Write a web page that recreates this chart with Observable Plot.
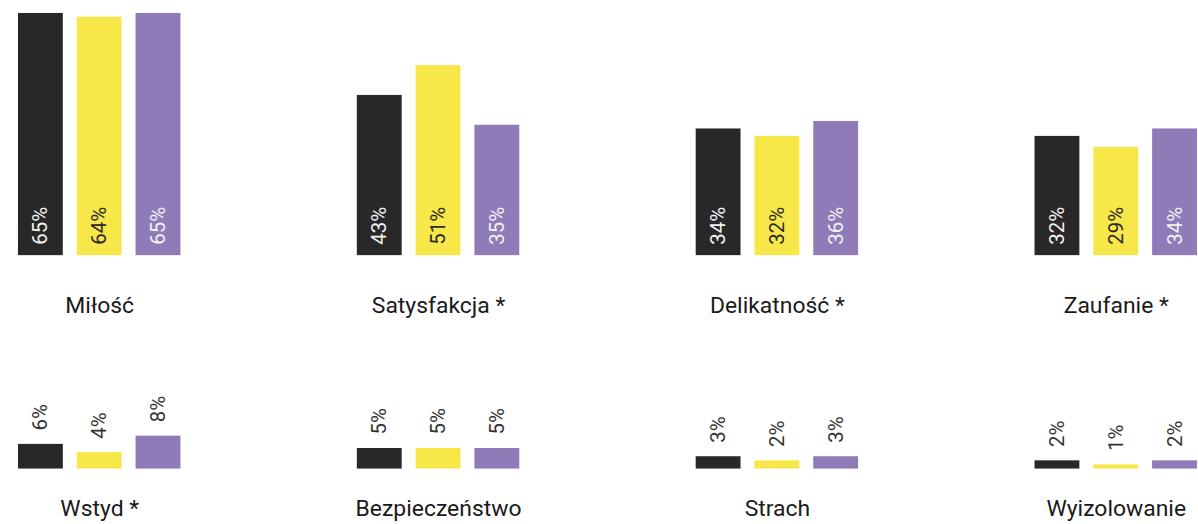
<!DOCTYPE html>
<html>
<head>
<meta charset="utf-8">
<script src="https://cdn.jsdelivr.net/npm/d3@7"></script>
<script src="https://cdn.jsdelivr.net/npm/@observablehq/plot@0.6"></script>
<style>
  html, body { margin: 0; padding: 0; background: #fff; overflow: hidden; }
  #wrap { width: 1198px; height: 524px; overflow: hidden; font-family: Roboto, "Noto Sans", sans-serif; }
  #wrap svg { display: block; }
</style>
</head>
<body>
<div id="wrap"></div>
<script>
const groups = ["Grupa 1", "Grupa 2", "Grupa 3"];
const colors = ["#282828", "#f7e748", "#8e7bb8"];
const labelColors = ["#f2f2f2", "#2a2a2a", "#f2f2f2"];

const categoriesTop = ["Miłość", "Satysfakcja *", "Delikatność *", "Zaufanie *"];
const valuesTop = [
  [65, 64, 65],
  [43, 51, 35],
  [34, 32, 36],
  [32, 29, 34]
];

const categoriesBottom = ["Wstyd *", "Bezpieczeństwo", "Strach", "Wyizolowanie"];
const valuesBottom = [
  [6, 4, 8],
  [5, 5, 5],
  [3, 2, 3],
  [2, 1, 2]
];

function toRows(cats, vals) {
  const rows = [];
  cats.forEach((c, i) => groups.forEach((g, j) => rows.push({cat: c, group: g, gi: j, value: vals[i][j]})));
  return rows;
}

const dataTop = toRows(categoriesTop, valuesTop);
const dataBottom = toRows(categoriesBottom, valuesBottom);

const common = (cats) => ({
  width: 1202,
  marginLeft: 17,
  marginRight: 0,
  style: {fontFamily: "Roboto, 'Noto Sans', sans-serif", background: "#fff"},
  fx: {domain: cats, paddingInner: 0.515, paddingOuter: 0},
  x: {domain: groups, paddingInner: 0.23, paddingOuter: 0, axis: null},
  color: {domain: groups, range: colors}
});

const chartTop = Plot.plot({
  ...common(categoriesTop),
  height: 340,
  marginTop: 13,
  marginBottom: 84,
  y: {domain: [0, 65], axis: null},
  marks: [
    Plot.barY(dataTop, {fx: "cat", x: "group", y: "value", fill: "group"}),
    ...groups.map((g, j) => Plot.text(dataTop.filter(d => d.gi === j), {
      fx: "cat", x: "group", y: 0, text: d => d.value + "%",
      rotate: -90, textAnchor: "start", lineAnchor: "middle", dy: -11,
      fill: labelColors[j], fontSize: 20.5, fontWeight: 400
    })),
    Plot.axisFx({anchor: "bottom", tickSize: 0, tickPadding: 41, fontSize: 23, fontWeight: 400, fill: "#1a1a1a", label: null})
  ]
});

const chartBottom = Plot.plot({
  ...common(categoriesBottom),
  height: 184,
  marginTop: 97,
  marginBottom: 54,
  y: {domain: [0, 8], axis: null},
  marks: [
    Plot.barY(dataBottom, {fx: "cat", x: "group", y: "value", fill: "group"}),
    Plot.text(dataBottom, {
      fx: "cat", x: "group", y: "value", text: d => d.value + "%",
      rotate: -90, textAnchor: "start", lineAnchor: "middle", dy: -14,
      fill: "#333", fontSize: 20.5, fontWeight: 400
    }),
    Plot.axisFx({anchor: "bottom", tickSize: 0, tickPadding: 31, fontSize: 23, fontWeight: 400, fill: "#1a1a1a", label: null})
  ]
});

document.getElementById("wrap").append(chartTop, chartBottom);
</script>
</body>
</html>
